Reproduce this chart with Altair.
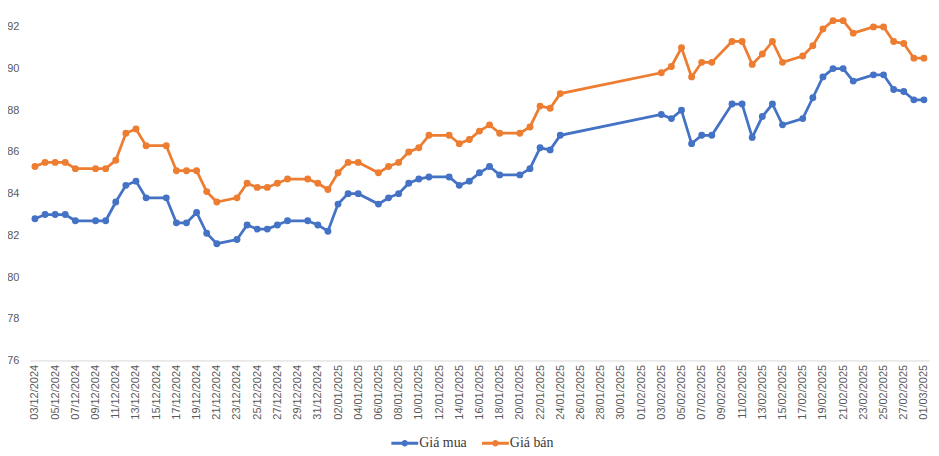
import altair as alt
import pandas as pd

# ---- data ----
dec_days = [3, 4, 5, 6, 7, 9, 10, 11, 12, 13, 14, 16, 17, 18, 19, 20, 21, 23, 24, 25, 26, 27, 28, 30, 31]
jan_days = [1, 2, 3, 4, 6, 7, 8, 9, 10, 11, 13, 14, 15, 16, 17, 18, 20, 21, 22, 23, 24]
feb_days = [3, 4, 5, 6, 7, 8, 10, 11, 12, 13, 14, 15, 17, 18, 19, 20, 21, 22, 24, 25, 26, 27, 28]
mar_days = [1]

dates = ([f"2024-12-{d:02d}" for d in dec_days] + [f"2025-01-{d:02d}" for d in jan_days]
         + [f"2025-02-{d:02d}" for d in feb_days] + [f"2025-03-{d:02d}" for d in mar_days])

gia_mua = [82.8, 83.0, 83.0, 83.0, 82.7, 82.7, 82.7, 83.6, 84.4, 84.6, 83.8, 83.8, 82.6, 82.6, 83.1, 82.1, 81.6, 81.8, 82.5, 82.3, 82.3, 82.5, 82.7, 82.7, 82.5,
           82.2, 83.5, 84.0, 84.0, 83.5, 83.8, 84.0, 84.5, 84.7, 84.8, 84.8, 84.4, 84.6, 85.0, 85.3, 84.9, 84.9, 85.2, 86.2, 86.1, 86.8,
           87.8, 87.6, 88.0, 86.4, 86.8, 86.8, 88.3, 88.3, 86.7, 87.7, 88.3, 87.3, 87.6, 88.6, 89.6, 90.0, 90.0, 89.4, 89.7, 89.7, 89.0, 88.9, 88.5,
           88.5]
gia_ban = [85.3, 85.5, 85.5, 85.5, 85.2, 85.2, 85.2, 85.6, 86.9, 87.1, 86.3, 86.3, 85.1, 85.1, 85.1, 84.1, 83.6, 83.8, 84.5, 84.3, 84.3, 84.5, 84.7, 84.7, 84.5,
           84.2, 85.0, 85.5, 85.5, 85.0, 85.3, 85.5, 86.0, 86.2, 86.8, 86.8, 86.4, 86.6, 87.0, 87.3, 86.9, 86.9, 87.2, 88.2, 88.1, 88.8,
           89.8, 90.1, 91.0, 89.6, 90.3, 90.3, 91.3, 91.3, 90.2, 90.7, 91.3, 90.3, 90.6, 91.1, 91.9, 92.3, 92.3, 91.7, 92.0, 92.0, 91.3, 91.2, 90.5,
           90.5]

series_names = ["Giá mua", "Giá bán"]
series_colors = ["#4472C4", "#ED7D31"]
y_ticks = [76, 78, 80, 82, 84, 86, 88, 90, 92]
x_tick_dates = pd.date_range("2024-12-03", "2025-03-01", freq="2D")

# ---- table ----
df = pd.concat([
    pd.DataFrame({"date": dates, "value": gia_mua, "series": series_names[0]}),
    pd.DataFrame({"date": dates, "value": gia_ban, "series": series_names[1]}),
])

x_values = [alt.DateTime(year=d.year, month=d.month, date=d.day, utc=True) for d in x_tick_dates]
x_domain = [alt.DateTime(year=2024, month=12, date=2, hours=12, utc=True),
            alt.DateTime(year=2025, month=3, date=1, hours=12, utc=True)]

x_enc = alt.X("date:T",
              scale=alt.Scale(type="utc", domain=x_domain, nice=False),
              axis=alt.Axis(values=x_values, format="%d/%m/%Y", labelAngle=270,
                            labelAlign="right", labelBaseline="middle", labelPadding=4,
                            ticks=False, grid=False, domain=True, domainColor="#d9d9d9",
                            domainWidth=1, labelOverlap=False, labelFlush=False,
                            labelFont="Liberation Sans", labelFontSize=11,
                            labelColor="#595959", title=None))
y_enc = alt.Y("value:Q",
              scale=alt.Scale(domain=[76, 92], nice=False, zero=False),
              axis=alt.Axis(values=y_ticks, format="d", ticks=False, grid=False, domain=False,
                            labelPadding=11, labelFont="Liberation Sans", labelFontSize=11,
                            labelColor="#595959", title=None))
color_scale = alt.Scale(domain=series_names, range=series_colors)

symbol_path = ("M-1,-0.11H1V0.11H-1Z "
               "M0.24,0A0.24,0.24,0,1,1,-0.24,0A0.24,0.24,0,1,1,0.24,0Z")

lines = alt.Chart(df).mark_line(strokeWidth=2.75).encode(
    x=x_enc, y=y_enc,
    color=alt.Color("series:N", scale=color_scale, legend=None),
    detail="series:N",
)
points = alt.Chart(df).mark_point(filled=True, size=48, opacity=1).encode(
    x=x_enc, y=y_enc,
    color=alt.Color("series:N", scale=color_scale,
                    sort=series_names,
                    legend=alt.Legend(orient="none", legendX=363, legendY=404.5,
                                      direction="horizontal", title=None,
                                      symbolType=symbol_path, symbolSize=729,
                                      symbolStrokeWidth=0, labelOffset=1,
                                      columnPadding=15, padding=0,
                                      labelFont="Liberation Serif", labelFontSize=14,
                                      labelColor="#3a3a3a")),
)

chart = alt.layer(lines, points).resolve_legend(color="independent").properties(
    width=903, height=335,
    autosize=alt.AutoSizeParams(type="none"),
    padding={"left": 22, "top": 18, "right": 2, "bottom": 95},
    background="white",
).configure_view(stroke=None)

chart.save("out.html", embed_options={"renderer": "svg", "actions": False})
